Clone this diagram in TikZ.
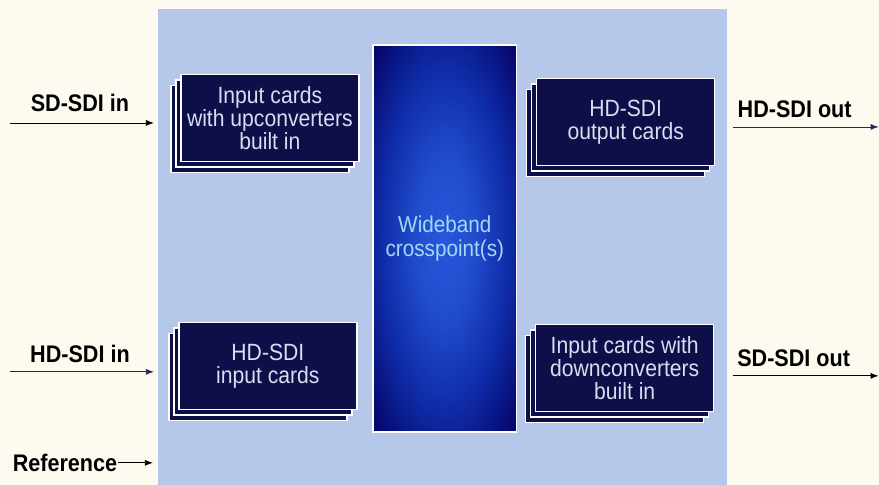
\documentclass[tikz,border=0pt]{standalone}
\usepackage{fontspec}
\setmainfont{Liberation Sans}[FakeStretch=0.9]
\usetikzlibrary{shadows,arrows.meta}
\definecolor{paper}{HTML}{FDFBEF}
\definecolor{panelblue}{HTML}{B6C8E9}
\definecolor{cardnavy}{HTML}{0E0E48}
\definecolor{cardtext}{HTML}{D6DEF0}
\definecolor{xpdark}{HTML}{05076C}
\definecolor{xpmid}{HTML}{0F2CA8}
\definecolor{xpbright}{HTML}{2658DA}
\definecolor{xptext}{HTML}{A4D8F4}
\definecolor{outline}{HTML}{1C2A66}
\pgfdeclareradialshading{xpglow}{\pgfpoint{0bp}{0bp}}{color(0bp)=(xpbright);
  color(10bp)=(xpbright!75!xpmid); color(22bp)=(xpmid); color(34bp)=(xpdark); color(50bp)=(xpdark)}
\tikzset{
  card/.style={draw=white,line width=1.4pt,fill=cardnavy,text=cardtext,
    minimum width=178pt,minimum height=87pt,inner sep=0pt,align=center,
    font=\fontsize{23.5}{23}\selectfont,
    double copy shadow={shadow xshift=-5pt,shadow yshift=-5.5pt}},
  signal/.style={font=\bfseries\fontsize{24}{26}\selectfont,inner sep=1pt},
  feed/.style={-{Latex[length=8pt,width=6pt]},line width=0.8pt}
}
\begin{document}
\begin{tikzpicture}[x=1pt,y=-1pt]
  \fill [paper] (0,0) rectangle (879,485);
  \fill [panelblue] (158,9) rectangle (727,485);

  \node [draw=white,line width=1.4pt,shading=xpglow,
    minimum width=144pt,minimum height=387pt,text=xptext,align=center,
    font=\fontsize{23}{24}\selectfont] (xp) at (445,238.5) {Wideband\\crosspoint(s)};

  \node [card] (upin)   at (270,118) {Input cards\\with upconverters\\built in};
  \node [card] (hdout)  at (626,122) {HD-SDI\\output cards};
  \node [card] (hdin)   at (268,366) {HD-SDI\\input cards};
  \node [card] (downin) at (625,368) {Input cards with\\downconverters\\built in};

  \node [signal] (sdinlbl)  at (80,103)  {SD-SDI in};
  \node [signal] (hdinlbl)  at (80,354)  {HD-SDI in};
  \node [signal] (reflbl)   at (65,463)  {Reference};
  \node [signal] (hdoutlbl) at (795,109) {HD-SDI out};
  \node [signal] (sdoutlbl) at (794,358) {SD-SDI out};

  \coordinate (sdfrom) at (10,123);  \coordinate (sdto) at (154,123);
  \coordinate (hdfrom) at (10,372);  \coordinate (hdto) at (154,372);
  \coordinate (refto) at (153,463);
  \coordinate (hdoutfrom) at (733,127); \coordinate (hdoutto) at (879,127);
  \coordinate (sdoutfrom) at (733,376); \coordinate (sdoutto) at (879,376);

  \draw [feed] (sdfrom) -- (sdto);
  \draw [feed,outline] (hdfrom) -- (hdto);
  \draw [feed] (reflbl.east) -- (refto);
  \draw [feed,outline] (hdoutfrom) -- (hdoutto);
  \draw [feed] (sdoutfrom) -- (sdoutto);
\end{tikzpicture}
\end{document}
